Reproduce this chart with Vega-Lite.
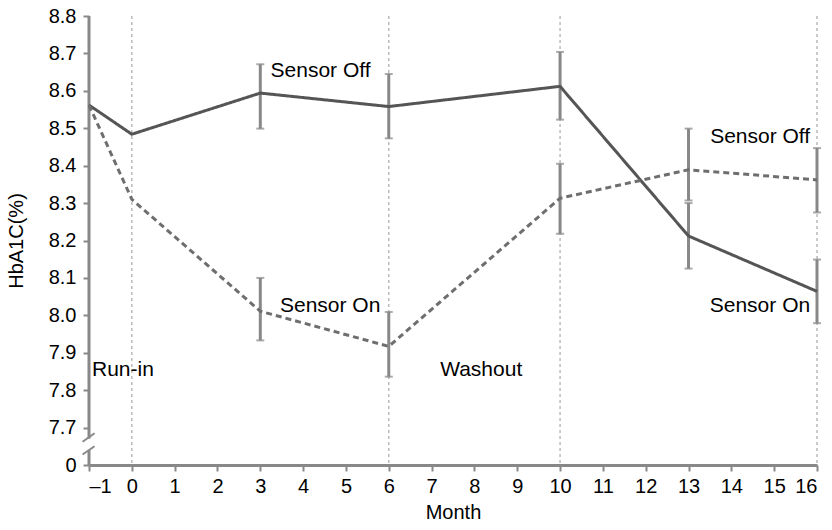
{
  "$schema": "https://vega.github.io/schema/vega-lite/v6.json",
  "width": 728,
  "height": 449,
  "autosize": {"type": "none"},
  "padding": {"left": 89, "top": 16, "right": 15, "bottom": 65},
  "background": "white",
  "config": {
    "view": {"stroke": null},
    "font": "Liberation Sans",
    "axis": {"labelFont": "Liberation Sans", "titleFont": "Liberation Sans", "labelFontSize": 20, "titleFontSize": 20, "labelColor": "#000", "titleColor": "#000", "titleFontWeight": "normal", "grid": false}
  },
  "datasets": {
    "means": [
      {"month": -1, "hba1c": 8.562, "group": "Off then On"},
      {"month": 0, "hba1c": 8.484, "group": "Off then On"},
      {"month": 3, "hba1c": 8.594, "group": "Off then On"},
      {"month": 6, "hba1c": 8.558, "group": "Off then On"},
      {"month": 10, "hba1c": 8.612, "group": "Off then On"},
      {"month": 13, "hba1c": 8.212, "group": "Off then On"},
      {"month": 16, "hba1c": 8.064, "group": "Off then On"},
      {"month": -1, "hba1c": 8.562, "group": "On then Off"},
      {"month": 0, "hba1c": 8.31, "group": "On then Off"},
      {"month": 3, "hba1c": 8.011, "group": "On then Off"},
      {"month": 6, "hba1c": 7.917, "group": "On then Off"},
      {"month": 10, "hba1c": 8.313, "group": "On then Off"},
      {"month": 13, "hba1c": 8.389, "group": "On then Off"},
      {"month": 16, "hba1c": 8.362, "group": "On then Off"}
    ],
    "errors": [
      {"month": 3, "lo": 8.499, "hi": 8.671, "group": "Off then On"},
      {"month": 6, "lo": 8.473, "hi": 8.645, "group": "Off then On"},
      {"month": 10, "lo": 8.523, "hi": 8.704, "group": "Off then On"},
      {"month": 13, "lo": 8.125, "hi": 8.3, "group": "Off then On"},
      {"month": 16, "lo": 7.979, "hi": 8.149, "group": "Off then On"},
      {"month": 3, "lo": 7.933, "hi": 8.1, "group": "On then Off"},
      {"month": 6, "lo": 7.836, "hi": 8.009, "group": "On then Off"},
      {"month": 10, "lo": 8.218, "hi": 8.405, "group": "On then Off"},
      {"month": 13, "lo": 8.307, "hi": 8.499, "group": "On then Off"},
      {"month": 16, "lo": 8.275, "hi": 8.447, "group": "On then Off"}
    ],
    "phases": [{"month": 0}, {"month": 6}, {"month": 10}, {"month": 16}],
    "axisline": [
      {"x": -1, "y": 7.6, "x2": -1, "y2": 7.64},
      {"x": -1, "y": 7.67, "x2": -1, "y2": 8.8}
    ],
    "breakmarks": [
      {"x": -1.15, "y": 7.628, "x2": -0.87, "y2": 7.65},
      {"x": -1.15, "y": 7.662, "x2": -0.87, "y2": 7.685}
    ],
    "labelsLeft": [
      {"month": 3.24, "hba1c": 8.637, "text": "Sensor Off"},
      {"month": 3.46, "hba1c": 8.009, "text": "Sensor On"},
      {"month": -0.93, "hba1c": 7.837, "text": "Run-in"},
      {"month": 7.2, "hba1c": 7.837, "text": "Washout"}
    ],
    "labelsRight": [
      {"month": 15.84, "hba1c": 8.46, "text": "Sensor Off"},
      {"month": 15.84, "hba1c": 8.009, "text": "Sensor On"}
    ]
  },
  "encoding": {
    "x": {
      "type": "quantitative",
      "scale": {"domain": [-1, 16], "nice": false, "zero": false},
      "axis": {
        "title": "Month",
        "values": [-1, 0, 1, 2, 3, 4, 5, 6, 7, 8, 9, 10, 11, 12, 13, 14, 15, 16],
        "labelExpr": "datum.value < 0 ? '\u2013' + format(-datum.value, 'd') : format(datum.value, 'd')",
        "domainColor": "#888",
        "domainWidth": 3,
        "tickColor": "#888",
        "tickWidth": 2,
        "tickSize": 6,
        "labelPadding": 5,
        "titlePadding": 6
      }
    },
    "y": {
      "type": "quantitative",
      "scale": {"domain": [7.6, 8.8], "nice": false, "zero": false},
      "axis": {
        "title": "HbA1C(%)",
        "values": [7.6, 7.7, 7.8, 7.9, 8.0, 8.1, 8.2, 8.3, 8.4, 8.5, 8.6, 8.7, 8.8],
        "labelExpr": "datum.value < 7.65 ? '0' : format(datum.value, '.1f')",
        "domain": false,
        "tickColor": "#888",
        "tickWidth": 2,
        "tickSize": 6,
        "labelPadding": 7,
        "titlePadding": 22
      }
    }
  },
  "layer": [
    {
      "data": {"name": "phases"},
      "mark": {"type": "rule", "color": "#bbb", "strokeDash": [3, 3], "strokeWidth": 1.5},
      "encoding": {"x": {"field": "month", "type": "quantitative"}}
    },
    {
      "data": {"name": "axisline"},
      "mark": {"type": "rule", "color": "#888", "strokeWidth": 3},
      "encoding": {
        "x": {"field": "x", "type": "quantitative"},
        "y": {"field": "y", "type": "quantitative"},
        "x2": {"field": "x2"},
        "y2": {"field": "y2"}
      }
    },
    {
      "data": {"name": "breakmarks"},
      "mark": {"type": "rule", "color": "#888", "strokeWidth": 2},
      "encoding": {
        "x": {"field": "x", "type": "quantitative"},
        "y": {"field": "y", "type": "quantitative"},
        "x2": {"field": "x2"},
        "y2": {"field": "y2"}
      }
    },
    {
      "data": {"name": "errors"},
      "mark": {"type": "rule", "color": "#888", "strokeWidth": 3},
      "encoding": {
        "x": {"field": "month", "type": "quantitative"},
        "y": {"field": "lo", "type": "quantitative"},
        "y2": {"field": "hi"}
      }
    },
    {
      "data": {"name": "errors"},
      "mark": {"type": "tick", "orient": "horizontal", "color": "#888", "size": 8, "thickness": 2},
      "encoding": {
        "x": {"field": "month", "type": "quantitative"},
        "y": {"field": "lo", "type": "quantitative"}
      }
    },
    {
      "data": {"name": "errors"},
      "mark": {"type": "tick", "orient": "horizontal", "color": "#888", "size": 8, "thickness": 2},
      "encoding": {
        "x": {"field": "month", "type": "quantitative"},
        "y": {"field": "hi", "type": "quantitative"}
      }
    },
    {
      "data": {"name": "means"},
      "mark": {"type": "line", "strokeWidth": 3, "interpolate": "linear"},
      "encoding": {
        "x": {"field": "month", "type": "quantitative"},
        "y": {"field": "hba1c", "type": "quantitative"},
        "color": {"field": "group", "type": "nominal", "scale": {"domain": ["Off then On", "On then Off"], "range": ["#555555", "#6e6e6e"]}, "legend": null},
        "strokeDash": {"field": "group", "type": "nominal", "scale": {"domain": ["Off then On", "On then Off"], "range": [[1, 0], [6, 4]]}, "legend": null}
      }
    },
    {
      "data": {"name": "labelsLeft"},
      "mark": {"type": "text", "align": "left", "baseline": "alphabetic", "fontSize": 21, "color": "#000"},
      "encoding": {
        "x": {"field": "month", "type": "quantitative"},
        "y": {"field": "hba1c", "type": "quantitative"},
        "text": {"field": "text"}
      }
    },
    {
      "data": {"name": "labelsRight"},
      "mark": {"type": "text", "align": "right", "baseline": "alphabetic", "fontSize": 21, "color": "#000"},
      "encoding": {
        "x": {"field": "month", "type": "quantitative"},
        "y": {"field": "hba1c", "type": "quantitative"},
        "text": {"field": "text"}
      }
    }
  ]
}
